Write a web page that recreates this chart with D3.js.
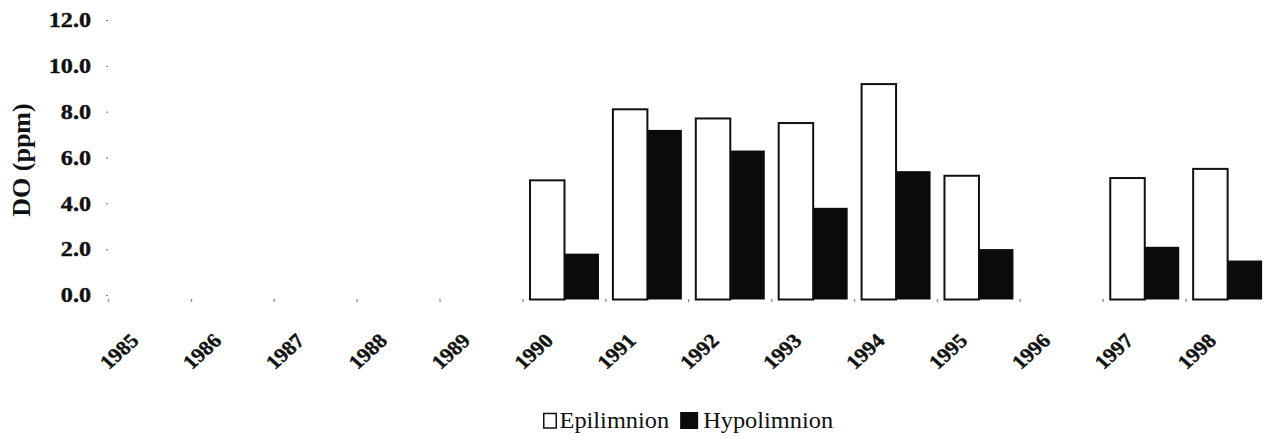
<!DOCTYPE html>
<html>
<head>
<meta charset="utf-8">
<script src="https://cdn.jsdelivr.net/npm/d3@7"></script>
<style>
  html, body { margin: 0; padding: 0; background: #fff; }
  svg { display: block; }
</style>
</head>
<body>
<div id="chart"></div>
<script>
// Dissolved oxygen by year, surface (epilimnion) vs bottom (hypolimnion) layer
const years = ["1985", "1986", "1987", "1988", "1989", "1990", "1991",
               "1992", "1993", "1994", "1995", "1996", "1997", "1998"];
const series = ["Epilimnion", "Hypolimnion"];
const epilimnion  = [null, null, null, null, null, 5.2, 8.3, 7.9, 7.7, 9.4, 5.4, null, 5.3, 5.7];
const hypolimnion = [null, null, null, null, null, 2.0, 7.4, 6.5, 4.0, 5.6, 2.2, null, 2.3, 1.7];
const yTicks = [0, 2, 4, 6, 8, 10, 12];
const yTitle = "DO (ppm)";

const W = 1268, H = 441;
const serifFont = "'Liberation Serif', 'Times New Roman', serif";

const rows = years.map((yr, i) => ({ year: yr, Epilimnion: epilimnion[i], Hypolimnion: hypolimnion[i] }));

const svg = d3.select("#chart").append("svg")
  .attr("width", W).attr("height", H)
  .style("background", "#fff");

const x0 = d3.scaleBand().domain(years).range([108.5, 1269]);
const bw = x0.bandwidth();
const x1 = d3.scaleBand().domain(series).range([bw * 0.085, bw * 0.917]);
const y = d3.scaleLinear().domain([0, 12]).range([299.5, 24.5]);

const style = {
  Epilimnion: { fill: "#fff", stroke: "#111", sw: 2 },
  Hypolimnion: { fill: "#0b0b0b", stroke: "none", sw: 0 }
};

// bars, one layer per series (hypolimnion drawn last so it overlaps the outline)
series.forEach(s => {
  svg.append("g").attr("class", "bars-" + s)
    .selectAll("rect")
    .data(rows.filter(d => d[s] != null))
    .join("rect")
    .attr("x", d => x0(d.year) + x1(s))
    .attr("width", x1.bandwidth())
    .attr("y", d => y(d[s]))
    .attr("height", d => y(0) - y(d[s]))
    .attr("fill", style[s].fill)
    .attr("stroke", style[s].stroke)
    .attr("stroke-width", style[s].sw);
});

// y axis: no spine, tiny tick marks, bold serif labels
const yAxis = svg.append("g")
  .attr("transform", "translate(108,-4.5)")
  .call(d3.axisLeft(y).tickValues(yTicks).tickFormat(d3.format(".1f")).tickSize(2).tickPadding(15));
yAxis.select(".domain").remove();
yAxis.selectAll(".tick line").attr("stroke", "#777");
yAxis.selectAll(".tick text")
  .attr("x", 0)
  .attr("transform", "translate(-17,0) scale(1.15,1)")
  .attr("text-anchor", "end")
  .style("font-family", serifFont)
  .style("font-weight", "bold")
  .style("font-size", "21px")
  .attr("fill", "#111")
  .attr("stroke", "#111")
  .attr("stroke-width", 0.4);

// y axis title
svg.append("text")
  .attr("transform", "translate(30,160) rotate(-90)")
  .attr("text-anchor", "middle")
  .style("font-family", serifFont)
  .style("font-weight", "bold")
  .style("font-size", "26px")
  .attr("fill", "#111")
  .text(yTitle);

// x category boundary marks
svg.append("g").selectAll("rect")
  .data(years)
  .join("rect")
  .attr("x", d => x0(d) - 0.75)
  .attr("y", 299)
  .attr("width", 1.5)
  .attr("height", 3)
  .attr("fill", "#999");

// x labels, rotated
svg.append("g").selectAll("text")
  .data(years)
  .join("text")
  .attr("transform", d => `translate(${x0(d) + bw / 2 - 10},342) scale(1.1,1) rotate(-45)`)
  .attr("text-anchor", "end")
  .style("font-family", serifFont)
  .style("font-weight", "bold")
  .style("font-size", "20px")
  .attr("fill", "#111")
  .attr("stroke", "#111")
  .attr("stroke-width", 0.4)
  .text(d => d);

// legend
const legend = svg.append("g").attr("transform", "translate(543,428)");
let lx = 0;
series.forEach((s, i) => {
  const box = i === 0 ? { w: 12.5, h: 14.5, dy: -14.5 } : { w: 18, h: 17, dy: -16 };
  legend.append("rect")
    .attr("x", lx + (i === 0 ? 0.75 : 0)).attr("y", box.dy)
    .attr("width", box.w).attr("height", box.h)
    .attr("fill", style[s].fill)
    .attr("stroke", i === 0 ? "#111" : "none")
    .attr("stroke-width", 1.5);
  lx += box.w + (i === 0 ? 4 : 5);
  const t = legend.append("text")
    .attr("transform", `translate(${lx},0) scale(1.06,1)`)
    .style("font-family", serifFont)
    .style("font-size", "23px")
    .attr("fill", "#111")
    .text(s);
  lx += t.node().getComputedTextLength() * 1.06 + 11;
});
</script>
</body>
</html>
